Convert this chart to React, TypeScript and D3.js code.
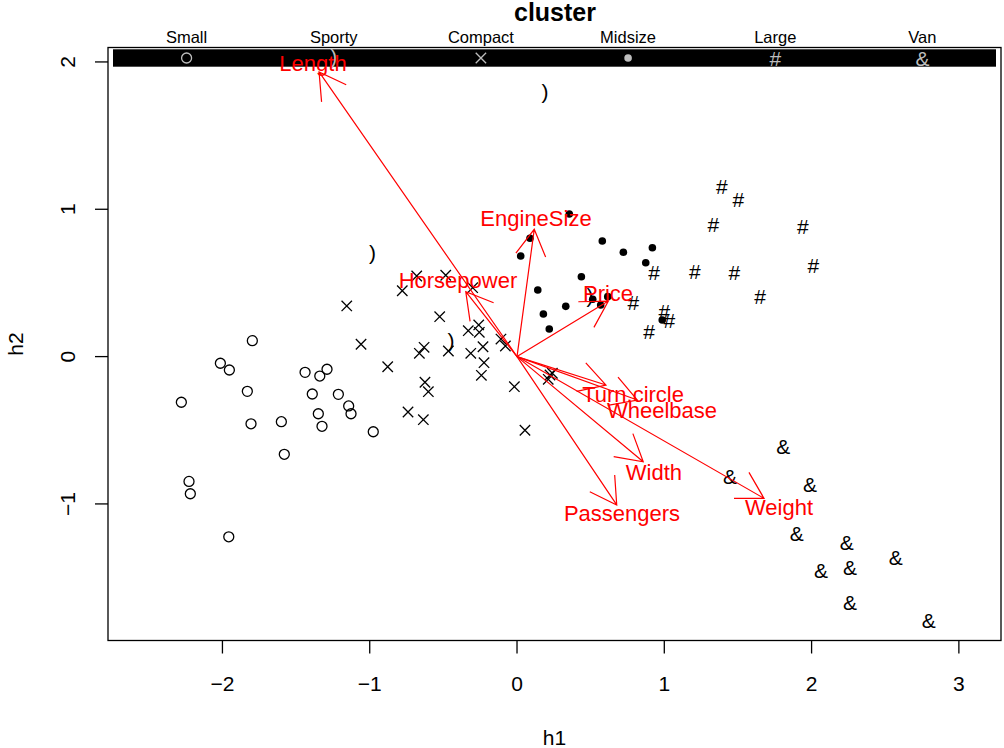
import React from "react";
import * as d3 from "d3";

const clusterNames = ["Small", "Sporty", "Compact", "Midsize", "Large", "Van"];

const smallPts: [number, number][] = [
  [-1.797, 0.108], [-2.014, -0.045], [-1.953, -0.091], [-1.439, -0.107], [-1.339, -0.132],
  [-1.29, -0.086], [-1.831, -0.236], [-2.279, -0.31], [-1.39, -0.254], [-1.213, -0.256],
  [-1.143, -0.335], [-1.127, -0.388], [-1.349, -0.388], [-1.806, -0.456], [-1.6, -0.442],
  [-1.324, -0.473], [-0.976, -0.51], [-1.58, -0.663], [-2.227, -0.847], [-2.218, -0.931],
  [-1.957, -1.223],
];

const sportyPts: [number, number][] = [
  [0.19, 1.79], [-0.982, 0.697], [-0.448, 0.101], [0.496, 0.407],
];

const compactPts: [number, number][] = [
  [-0.681, 0.547], [-0.484, 0.552], [-0.779, 0.447], [-0.301, 0.468], [-1.156, 0.344],
  [-0.525, 0.271], [-1.059, 0.084], [-0.331, 0.176], [-0.26, 0.215], [-0.256, 0.165],
  [-0.631, 0.063], [-0.663, 0.022], [-0.466, 0.038], [-0.314, 0.022], [-0.231, 0.067],
  [-0.109, 0.119], [-0.079, 0.072], [-0.224, -0.041], [-0.878, -0.069], [-0.242, -0.127],
  [-0.625, -0.174], [-0.602, -0.238], [-0.018, -0.204], [-0.74, -0.376], [-0.636, -0.428],
  [0.054, -0.5], [0.224, -0.125], [0.24, -0.113], [0.212, -0.154],
];

const midsizePts: [number, number][] = [
  [0.355, 0.968], [0.088, 0.803], [0.025, 0.683], [0.579, 0.785], [0.722, 0.708],
  [0.919, 0.739], [0.874, 0.637], [0.437, 0.542], [0.141, 0.452], [0.331, 0.341],
  [0.179, 0.289], [0.219, 0.187], [0.514, 0.389], [0.568, 0.35], [0.616, 0.407],
  [0.986, 0.248],
];

const largePts: [number, number][] = [
  [1.39, 1.158], [1.502, 1.068], [1.333, 0.898], [1.94, 0.882], [2.012, 0.617],
  [0.93, 0.57], [1.208, 0.576], [1.475, 0.572], [1.65, 0.407], [0.79, 0.366],
  [1.0, 0.305], [1.034, 0.244], [0.896, 0.169],
];

const vanPts: [number, number][] = [
  [1.808, -0.607], [1.446, -0.811], [1.989, -0.867], [1.899, -1.2], [2.238, -1.261],
  [2.571, -1.363], [2.064, -1.449], [2.261, -1.433], [2.261, -1.668], [2.795, -1.788],
];

const varNames = ["Length", "EngineSize", "Horsepower", "Price", "Turn.circle", "Wheelbase", "Width", "Passengers", "Weight"];
const arrowX = [-1.344, 0.117, -0.348, 0.62, 0.604, 0.817, 0.857, 0.677, 1.677];
const arrowY = [1.932, 0.864, 0.441, 0.377, -0.193, -0.295, -0.714, -1.007, -0.962];
const labelX = [-1.385, 0.129, -0.401, 0.618, 0.788, 0.984, 0.93, 0.713, 1.779];
const labelY = [1.993, 0.941, 0.52, 0.432, -0.254, -0.363, -0.783, -1.062, -1.022];

const xTicks = [-2, -1, 0, 1, 2, 3];
const yTicks = [-1, 0, 1, 2];

const W = 1004;
const H = 748;
const FONT = "'Liberation Sans', Arial, Helvetica, sans-serif";

function Symbol({ kind, cx, cy, color }: { kind: number; cx: number; cy: number; color: string }) {
  if (kind === 0) return <circle cx={cx} cy={cy} r={5} fill="none" stroke={color} strokeWidth={1.3} />;
  if (kind === 2)
    return (
      <path d={`M${cx - 5.2},${cy - 5.2}L${cx + 5.2},${cy + 5.2}M${cx - 5.2},${cy + 5.2}L${cx + 5.2},${cy - 5.2}`} stroke={color} strokeWidth={1.3} />
    );
  if (kind === 3) return <circle cx={cx} cy={cy} r={3.8} fill={color} />;
  const ch = kind === 1 ? ")" : kind === 4 ? "#" : "&";
  return (
    <text x={cx} y={cy} dy={kind === 1 ? "0.3em" : "0.36em"} textAnchor="middle" fontSize={21} fill={color} fontFamily={FONT}>
      {ch}
    </text>
  );
}

export default function App() {
  const left = 108, right = 1001, top = 47.5, bottom = 640.5;
  const x = d3.scaleLinear().domain([-2.777, 3.286]).range([left, right]);
  const y = d3.scaleLinear().domain([-1.927, 2.098]).range([bottom, top]);

  const groups = [smallPts, sportyPts, compactPts, midsizePts, largePts, vanPts];

  const stripL = 113, stripR = 996, stripT = 49.3, stripB = 66.7;
  const colW = (stripR - stripL) / clusterNames.length;

  const ax0 = x(0), ay0 = y(0);
  const headLen = 30;
  const headAng = Math.PI / 6;

  return (
    <svg width={W} height={H} style={{ position: "absolute", left: 0, top: 0, background: "#fff" }} fontFamily={FONT}>
      <rect x={0} y={0} width={W} height={H} fill="#fff" />
      {/* points */}
      {groups.map((pts, gi) =>
        pts.map((p, i) => <Symbol key={`${gi}-${i}`} kind={gi} cx={x(p[0])} cy={y(p[1])} color="#000" />)
      )}
      {/* legend strip */}
      <rect x={stripL} y={stripT} width={stripR - stripL} height={stripB - stripT} fill="#000" />
      {clusterNames.map((n, i) => {
        const cx = stripL + colW * (i + 0.5);
        return (
          <g key={n}>
            <text x={cx} y={43} textAnchor="middle" fontSize={16.5} fill="#000">{n}</text>
            <Symbol kind={i} cx={cx} cy={(stripT + stripB) / 2} color="#bdbdbd" />
          </g>
        );
      })}
      <text x={555} y={21} textAnchor="middle" fontSize={25} fontWeight="bold" fill="#000">cluster</text>
      {/* arrows */}
      {varNames.map((v, i) => {
        const tx = x(arrowX[i]), ty = y(arrowY[i]);
        const ang = Math.atan2(ty - ay0, tx - ax0);
        const b1x = tx - headLen * Math.cos(ang - headAng), b1y = ty - headLen * Math.sin(ang - headAng);
        const b2x = tx - headLen * Math.cos(ang + headAng), b2y = ty - headLen * Math.sin(ang + headAng);
        return (
          <g key={v}>
            <path d={`M${ax0},${ay0}L${tx},${ty}M${b1x},${b1y}L${tx},${ty}L${b2x},${b2y}`} stroke="#ff0000" strokeWidth={1.2} fill="none" />
            <text x={x(labelX[i])} y={y(labelY[i])} dy="0.36em" textAnchor="middle" fontSize={22} fill="#ff0000">{v}</text>
          </g>
        );
      })}
      {/* frame */}
      <rect x={left} y={top} width={right - left} height={bottom - top} fill="none" stroke="#000" strokeWidth={1.3} />
      {/* x axis */}
      {xTicks.map((t) => (
        <g key={`x${t}`}>
          <line x1={x(t)} x2={x(t)} y1={bottom} y2={bottom + 13} stroke="#000" strokeWidth={1.3} />
          <text x={x(t)} y={683} dy="0.36em" textAnchor="middle" fontSize={21} fill="#000">{t < 0 ? `\u2212${-t}` : `${t}`}</text>
        </g>
      ))}
      {/* y axis */}
      {yTicks.map((t) => (
        <g key={`y${t}`}>
          <line x1={left - 13} x2={left} y1={y(t)} y2={y(t)} stroke="#000" strokeWidth={1.3} />
          <text transform={`translate(67,${y(t)}) rotate(-90)`} dy="0.36em" textAnchor="middle" fontSize={21} fill="#000">{t < 0 ? `\u2212${-t}` : `${t}`}</text>
        </g>
      ))}
      <text x={(left + right) / 2 + 0} y={737} dy="0.36em" textAnchor="middle" fontSize={21} fill="#000">h1</text>
      <text transform={`translate(15,${(top + bottom) / 2}) rotate(-90)`} dy="0.36em" textAnchor="middle" fontSize={21} fill="#000">h2</text>
    </svg>
  );
}
